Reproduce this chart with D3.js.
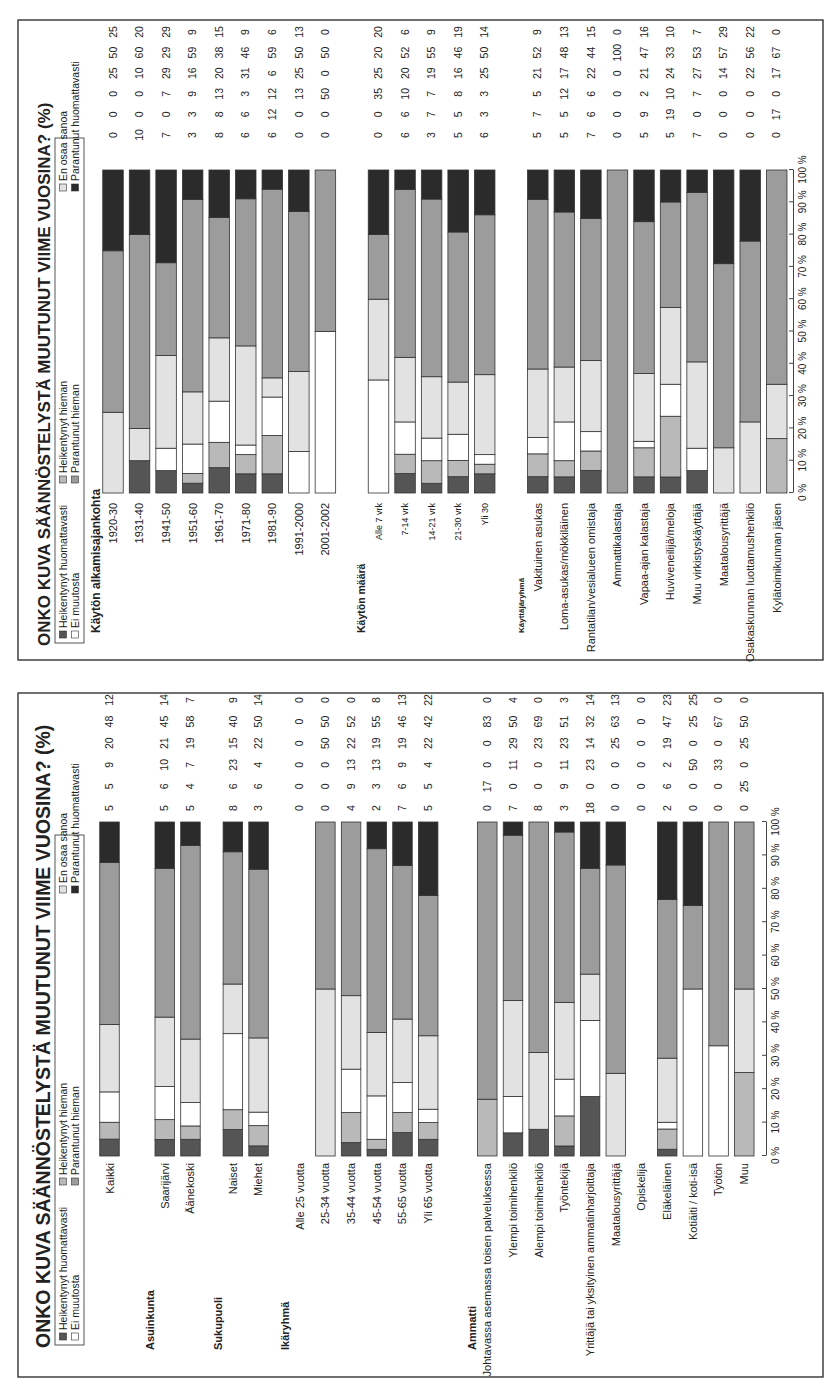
<!DOCTYPE html>
<html>
<head>
<meta charset="utf-8">
<script src="https://cdn.jsdelivr.net/npm/d3@7"></script>
<style>
body { margin: 0; background: #fff; }
text { font-family: "Liberation Sans", Arial, sans-serif; fill: #222; }
</style>
</head>
<body>
<div id="chart"></div>
<script>
var seriesNames = ["Heikentynyt huomattavasti", "Heikentynyt hieman", "Ei muutosta",
  "En osaa sanoa", "Parantunut hieman", "Parantunut huomattavasti"];
var seriesColors = ["#555555", "#b9b9b9", "#ffffff", "#e2e2e2", "#9c9c9c", "#2b2b2b"];
var legendOrder = [0, 2, 1, 4, 3, 5];
var tickValues = [0, 0.1, 0.2, 0.3, 0.4, 0.5, 0.6, 0.7, 0.8, 0.9, 1];
var titleText = "ONKO KUVA SÄÄNNÖSTELYSTÄ MUUTUNUT VIIME VUOSINA? (%)";

// paneeli 1 (alempi kuva)
var groupsA = ["", "Asuinkunta", "Sukupuoli", "Ikäryhmä", "Ammatti"];
var categoriesA = ["Kaikki", "Saarijärvi", "Äänekoski", "Naiset", "Miehet",
  "Alle 25 vuotta", "25-34 vuotta", "35-44 vuotta", "45-54 vuotta", "55-65 vuotta", "Yli 65 vuotta",
  "Johtavassa asemassa toisen palveluksessa", "Ylempi toimihenkilö", "Alempi toimihenkilö", "Työntekijä",
  "Yrittäjä tai yksityinen ammatinharjoittaja", "Maatalousyrittäjä", "Opiskelija", "Eläkeläinen",
  "Kotiäiti / koti-isä", "Työtön", "Muu"];
var groupIndexA = [0, 1, 1, 2, 2, 3, 3, 3, 3, 3, 3, 4, 4, 4, 4, 4, 4, 4, 4, 4, 4, 4];
var valuesA = [
  [5, 5, 9, 20, 48, 12],
  [5, 6, 10, 21, 45, 14],
  [5, 4, 7, 19, 58, 7],
  [8, 6, 23, 15, 40, 9],
  [3, 6, 4, 22, 50, 14],
  [0, 0, 0, 0, 0, 0],
  [0, 0, 0, 50, 50, 0],
  [4, 9, 13, 22, 52, 0],
  [2, 3, 13, 19, 55, 8],
  [7, 6, 9, 19, 46, 13],
  [5, 5, 4, 22, 42, 22],
  [0, 17, 0, 0, 83, 0],
  [7, 0, 11, 29, 50, 4],
  [8, 0, 0, 23, 69, 0],
  [3, 9, 11, 23, 51, 3],
  [18, 0, 23, 14, 32, 14],
  [0, 0, 0, 25, 63, 13],
  [0, 0, 0, 0, 0, 0],
  [2, 6, 2, 19, 47, 23],
  [0, 0, 50, 0, 25, 25],
  [0, 0, 33, 0, 67, 0],
  [0, 25, 0, 25, 50, 0]
];

// paneeli 2 (ylempi kuva)
var groupsB = ["Käytön alkamisajankohta", "Käytön määrä", "Käyttäjäryhmä"];
var categoriesB = ["1920-30", "1931-40", "1941-50", "1951-60", "1961-70", "1971-80", "1981-90",
  "1991-2000", "2001-2002",
  "Alle 7 vrk", "7-14 vrk", "14-21 vrk", "21-30 vrk", "Yli 30",
  "Vakituinen asukas", "Loma-asukas/mökkiläinen", "Rantatilan/vesialueen omistaja", "Ammattikalastaja",
  "Vapaa-ajan kalastaja", "Huviveneilijä/meloja", "Muu virkistyskäyttäjä", "Maatalousyrittäjä",
  "Osakaskunnan luottamushenkilö", "Kylätoimikunnan jäsen"];
var groupIndexB = [0, 0, 0, 0, 0, 0, 0, 0, 0, 1, 1, 1, 1, 1, 2, 2, 2, 2, 2, 2, 2, 2, 2, 2];
var valuesB = [
  [0, 0, 0, 25, 50, 25],
  [10, 0, 0, 10, 60, 20],
  [7, 0, 7, 29, 29, 29],
  [3, 3, 9, 16, 59, 9],
  [8, 8, 13, 20, 38, 15],
  [6, 6, 3, 31, 46, 9],
  [6, 12, 12, 6, 59, 6],
  [0, 0, 13, 25, 50, 13],
  [0, 0, 50, 0, 50, 0],
  [0, 0, 35, 25, 20, 20],
  [6, 6, 10, 20, 52, 6],
  [3, 7, 7, 19, 55, 9],
  [5, 5, 8, 16, 46, 19],
  [6, 3, 3, 25, 50, 14],
  [5, 7, 5, 21, 52, 9],
  [5, 5, 12, 17, 48, 13],
  [7, 6, 6, 22, 44, 15],
  [0, 0, 0, 0, 100, 0],
  [5, 9, 2, 21, 47, 16],
  [5, 19, 10, 24, 33, 10],
  [7, 0, 7, 27, 53, 7],
  [0, 0, 0, 14, 57, 29],
  [0, 0, 0, 22, 56, 22],
  [0, 17, 0, 17, 67, 0]
];

var svg = d3.select('#chart').append('svg')
  .attr('width', 838)
  .attr('height', 1397);

function drawPanel(p) {
  var W = p.bottom - p.top, H = p.right - p.left;
  // koko kuva on käännetty 90 astetta vastapäivään
  var g = svg.append('g')
    .attr('transform', 'translate(' + p.left + ',' + p.bottom + ') rotate(-90)');

  g.append('rect')
    .attr('width', W).attr('height', H)
    .attr('fill', 'none').attr('stroke', '#333').attr('stroke-width', 1.4);

  // otsikko
  g.append('text')
    .attr('x', p.titleX).attr('y', p.titleY)
    .style('font-size', p.titleSize + 'px').style('font-weight', 'bold')
    .text(titleText);

  // selite
  g.append('rect')
    .attr('x', p.legendBox[0]).attr('y', p.legendBox[1])
    .attr('width', p.legendBox[2]).attr('height', p.legendBox[3])
    .attr('fill', '#fff').attr('stroke', '#444').attr('stroke-width', 0.9);
  var lg = g.selectAll('.leg').data(legendOrder).enter().append('g')
    .attr('class', 'leg')
    .attr('transform', (d, i) => 'translate(' + p.legendCols[Math.floor(i / 2)] + ',' + p.legendRows[i % 2] + ')');
  lg.append('rect')
    .attr('x', 0).attr('y', -3.5).attr('width', 7).attr('height', 7)
    .attr('fill', d => seriesColors[d]).attr('stroke', '#333').attr('stroke-width', 0.6);
  lg.append('text')
    .attr('x', 10).attr('y', 0).attr('dy', '0.35em')
    .style('font-size', p.legendSize + 'px')
    .text(d => seriesNames[d]);

  var x = d3.scaleLinear().domain([0, 1]).range([p.x0, p.x1]);

  // rivien paikat: ryhmien väliin jää tyhjää
  var slots = [], cur = 0;
  p.groupIndex.forEach((gi, i) => {
    if (i > 0) cur += gi !== p.groupIndex[i - 1] ? p.gaps[gi] : 1;
    slots.push(cur);
  });
  var y = d3.scaleLinear().domain([0, 1]).range([p.y0, p.y0 + p.pitch]);

  var rows = p.categories.map((c, i) => ({ label: c, values: p.values[i], slot: slots[i], group: p.groupIndex[i] }));

  var stack = d3.stack()
    .keys(d3.range(6))
    .value((d, k) => d.values[k])
    .offset(d3.stackOffsetExpand);
  var series = stack(rows);

  g.selectAll('.serie').data(series).enter().append('g')
    .attr('class', 'serie')
    .attr('fill', d => seriesColors[d.key])
    .selectAll('rect')
    .data(d => d.filter(s => s[1] - s[0] > 0))
    .enter().append('rect')
    .attr('x', d => x(d[0]))
    .attr('y', d => y(d.data.slot) - p.barW / 2)
    .attr('width', d => x(d[1]) - x(d[0]))
    .attr('height', p.barW)
    .attr('stroke', '#333')
    .attr('stroke-width', 0.8);

  // luokkien nimet
  g.selectAll('.cat').data(rows).enter().append('text')
    .attr('class', 'cat')
    .attr('x', p.labelX)
    .attr('y', d => y(d.slot))
    .attr('dy', '0.35em')
    .attr('text-anchor', 'end')
    .style('font-size', d => p.labelSizes[d.group] + 'px')
    .text(d => d.label);

  // ryhmien otsikot
  p.groups.forEach((name, gi) => {
    if (!name) return;
    var first = rows.find(r => r.group === gi);
    g.append('text')
      .attr('x', p.headerX)
      .attr('y', y(first.slot) - p.headerOffset)
      .attr('dy', '0.35em')
      .style('font-size', p.headerSizes[gi] + 'px')
      .style('font-weight', 'bold')
      .text(name);
  });

  // prosenttiluvut
  rows.forEach(r => {
    g.selectAll(null).data(r.values).enter().append('text')
      .attr('x', (d, k) => p.valX0 + k * p.valStep)
      .attr('y', y(r.slot))
      .attr('dy', '0.35em')
      .attr('text-anchor', 'middle')
      .style('font-size', p.valSize + 'px')
      .text(d => d);
  });

  // akseli
  var axis = d3.axisBottom(x)
    .tickValues(tickValues)
    .tickSizeInner(-4)
    .tickSizeOuter(0)
    .tickPadding(6)
    .tickFormat(d => Math.round(d * 100) + ' %');
  var ax = g.append('g')
    .attr('transform', 'translate(0,' + p.axisY + ')')
    .call(axis);
  ax.select('.domain').attr('stroke', '#444');
  ax.selectAll('line').attr('stroke', '#444');
  ax.selectAll('text').style('font-size', p.tickSize + 'px').attr('fill', '#222');
}

drawPanel({
  left: 18, right: 823, top: 20, bottom: 660,
  titleX: 14, titleY: 32, titleSize: 17,
  legendBox: [17, 37, 505, 29], legendCols: [22, 177, 469], legendRows: [45, 57], legendSize: 10.5,
  x0: 167, x1: 490,
  y0: 95, pitch: 26.55, gaps: [0, 2, 2], barW: 20.5,
  groupIndex: groupIndexB, categories: categoriesB, values: valuesB, groups: groupsB,
  labelX: 157, labelSizes: [11, 9, 11],
  headerX: 27, headerOffset: 17, headerSizes: [12, 10.5, 8],
  valX0: 525, valStep: 20.6, valSize: 10.5,
  axisY: 775, tickSize: 10
});

drawPanel({
  left: 18, right: 823, top: 693, bottom: 1377,
  titleX: 29, titleY: 32, titleSize: 19.5,
  legendBox: [32, 37, 510, 29], legendCols: [37, 192, 484], legendRows: [45, 57], legendSize: 10.5,
  x0: 221, x1: 555,
  y0: 91.5, pitch: 25.7, gaps: [0, 2.15, 1.65, 1.6, 2.3], barW: 19.5,
  groupIndex: groupIndexA, categories: categoriesA, values: valuesA, groups: groupsA,
  labelX: 214, labelSizes: [11.5, 11, 11, 11, 11],
  headerX: 27, headerOffset: 15, headerSizes: [11, 11, 11, 11, 11],
  valX0: 569, valStep: 21.6, valSize: 10.5,
  axisY: 748, tickSize: 10
});
</script>
</body>
</html>
